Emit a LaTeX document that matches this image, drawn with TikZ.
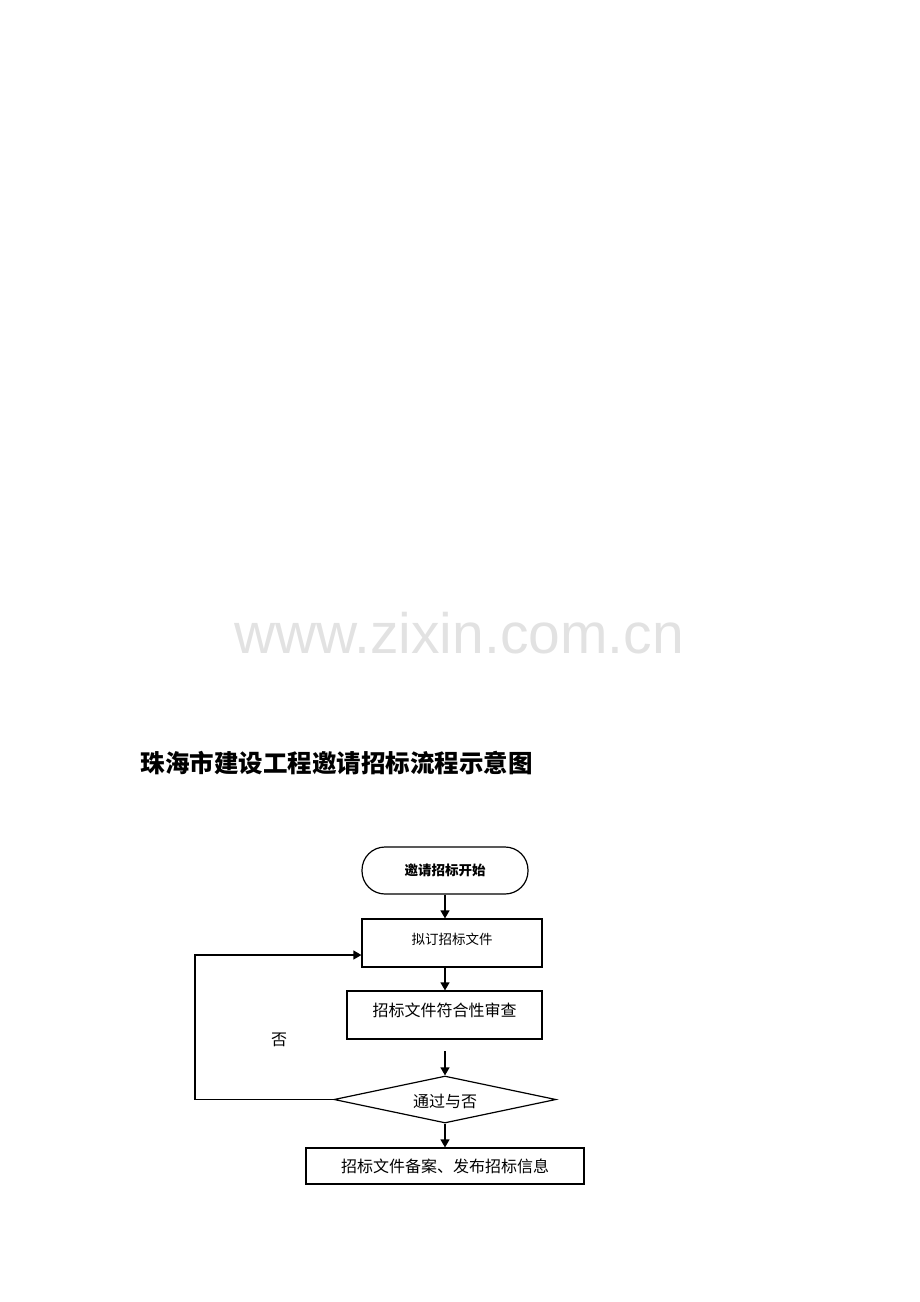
\documentclass[tikz,border=0pt]{standalone}
\usepackage{fontspec}
\usepackage{xcolor}
\usetikzlibrary{shapes.geometric,arrows.meta}
\newfontfamily\cjk{Noto Sans CJK SC}
\newfontfamily\wmfont{Liberation Sans}
\definecolor{wmgray}{RGB}{226,226,226}

\begin{document}
\begin{tikzpicture}[x=1pt,y=-1pt,line width=1.2pt,
    arrow/.style={-{Triangle[length=8pt,width=9pt]}},
    box/.style={draw,rectangle,inner sep=0pt},
    startbox/.style={draw,rectangle,rounded corners=23pt,inner sep=0pt,
      minimum width=166pt,minimum height=47pt}]
          \useasboundingbox (0,0) rectangle (920,1302);

          \node[wmgray,anchor=base] (mark) at (459,653)
            {\wmfont\fontsize{57}{57}\selectfont www.zixin.com.cn};
          \node[anchor=west] (title) at (137,763)
            {\cjk\bfseries\fontsize{24.5}{24.5}\selectfont 珠海市建设工程邀请招标流程示意图};

          \node[startbox] (start) at (445,870.5)
            {\cjk\bfseries\fontsize{13.5}{13.5}\selectfont 邀请招标开始};
          \node[box,minimum width=180pt,minimum height=48pt,text depth=9pt] (draft) at (452,943)
            {\cjk\fontsize{13.5}{13.5}\selectfont 拟订招标文件};
          \node[box,minimum width=195pt,minimum height=48pt,text depth=10pt] (check) at (444.5,1015)
            {\cjk\fontsize{16}{16}\selectfont 招标文件符合性审查};
          \node[draw,diamond,aspect=4.7,inner sep=0pt,text height=17pt,
            minimum width=222pt,minimum height=47pt] (pass) at (445,1099.5)
            {\cjk\fontsize{16}{16}\selectfont 通过与否};
          \node[box,minimum width=278pt,minimum height=36pt] (record) at (445,1166)
            {\cjk\fontsize{16}{16}\selectfont 招标文件备案、发布招标信息};

          \coordinate (gap) at (445,1051);
          \coordinate (back) at (195,1099.5);

          \draw[arrow] (start.south) -- (draft.north -| start.south);
          \draw[arrow] (draft.south -| start.south) -- (check.north -| start.south);
          \draw[arrow] (gap) -- (pass.north);
          \draw[arrow] (pass.south) -- (record.north);
          \draw[arrow] (pass.west) -- (back) |- ([yshift=-12pt]draft.west);

          \node (no) at (279,1040) {\cjk\fontsize{16}{16}\selectfont 否};

          \end{tikzpicture}
\end{document}
